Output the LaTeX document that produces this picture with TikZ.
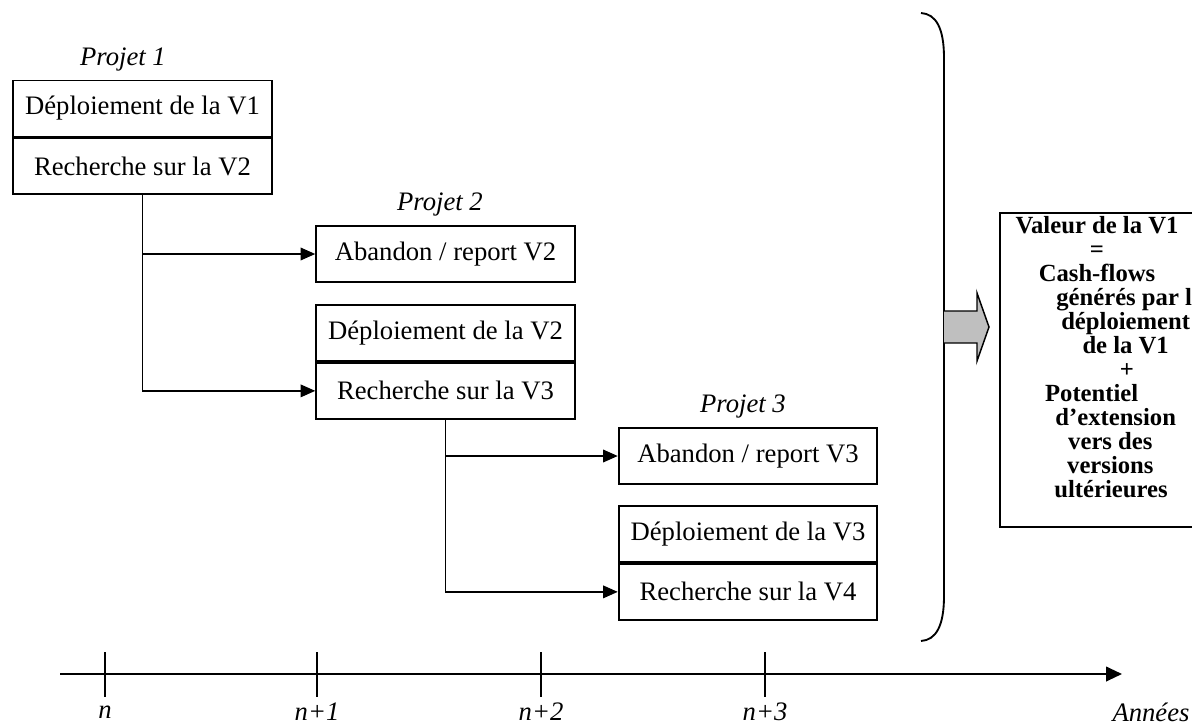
\documentclass[tikz,border=0pt]{standalone}
\usepackage{fontspec}
\setmainfont{Liberation Serif}
\usetikzlibrary{arrows.meta}

\tikzset{
  cell/.style={draw, line width=1.4pt, minimum width=194pt, minimum height=42pt,
    inner sep=0pt, font=\fontsize{20}{24}\selectfont},
  projet/.style={font=\fontsize{20}{24}\selectfont\itshape},
  lien/.style={line width=1.1pt, -{Triangle[length=11pt,width=9.5pt]}},
  valeur/.style={font=\fontsize{18.5}{18}\selectfont\bfseries, inner sep=0pt,
    align=center},
  annee/.style={font=\fontsize{20}{24}\selectfont\itshape},
}

\begin{document}
\begin{tikzpicture}[x=0.75pt, y=-0.75pt]
  \useasboundingbox (0,0) rectangle (1192,728);
  \clip (0,0) rectangle (1192,728);

  % Projet 1
  \node[projet] (p1) at (123,60) {Projet 1};
  \node[cell] (d1) at (142.5,108.5) {Déploiement de la V1};
  \node[cell, anchor=north] (r1) at (d1.south) {Recherche sur la V2};

  % Projet 2
  \node[projet] (p2) at (440,205) {Projet 2};
  \node[cell] (a2) at (445.5,254) {Abandon / report V2};
  \node[cell] (d2) at (445.5,333) {Déploiement de la V2};
  \node[cell, anchor=north] (r2) at (d2.south) {Recherche sur la V3};

  % Projet 3
  \node[projet] (p3) at (743,407) {Projet 3};
  \node[cell] (a3) at (748,456) {Abandon / report V3};
  \node[cell] (d3) at (748,534) {Déploiement de la V3};
  \node[cell, anchor=north] (r3) at (d3.south) {Recherche sur la V4};

  % Branches
  \draw[lien] (r1.south) |- (r2.west);
  \draw[lien] (r1.south |- a2.west) -- (a2.west);
  \draw[lien] (r2.south) |- (r3.west);
  \draw[lien] (r2.south |- a3.west) -- (a3.west);

  % Accolade et fleche grise
  \draw[line width=1.4pt] (921,13) .. controls (936,14) and (944,28) .. (944,58)
    -- (944,596) .. controls (944,626) and (936,640) .. (921,641);
  \filldraw[fill=gray!50, line width=1.1pt] (944,311) -- (977,311) -- (977,293)
    -- (989,327) -- (977,361) -- (977,343) -- (944,343);

  % Valeur de la V1
  \draw[line width=1.4pt] (1000,213) rectangle (1215,527);
  \node[valeur, anchor=north] (val) at (1097,216) {Valeur de la V1\\
    =\\
    Cash-flows\\
    \hspace*{49pt}générés par le\\
    \hspace*{43pt}déploiement\\
    \hspace*{43pt}de la V1\\
    \hspace*{45pt}+\\
    \hspace*{-8pt}Potentiel\\
    \hspace*{28pt}d’extension\\
    \hspace*{20pt}vers des\\
    \hspace*{20pt}versions\\
    \hspace*{21pt}ultérieures};

  % Axe des annees
  \draw[line width=1.5pt, -{Triangle[length=12pt,width=11pt]}] (60,674) -- (1122,674);
  \foreach \x/\lab [count=\k] in {105/n, 317/n+1, 541/n+2, 765/n+3} {
    \draw[line width=0.8pt] (\x,652) -- (\x,697);
    \node[annee] (t\k) at (\x,712) {\lab};
  }
  \node[annee] (an) at (1151,712) {Années};

\end{tikzpicture}
\end{document}
